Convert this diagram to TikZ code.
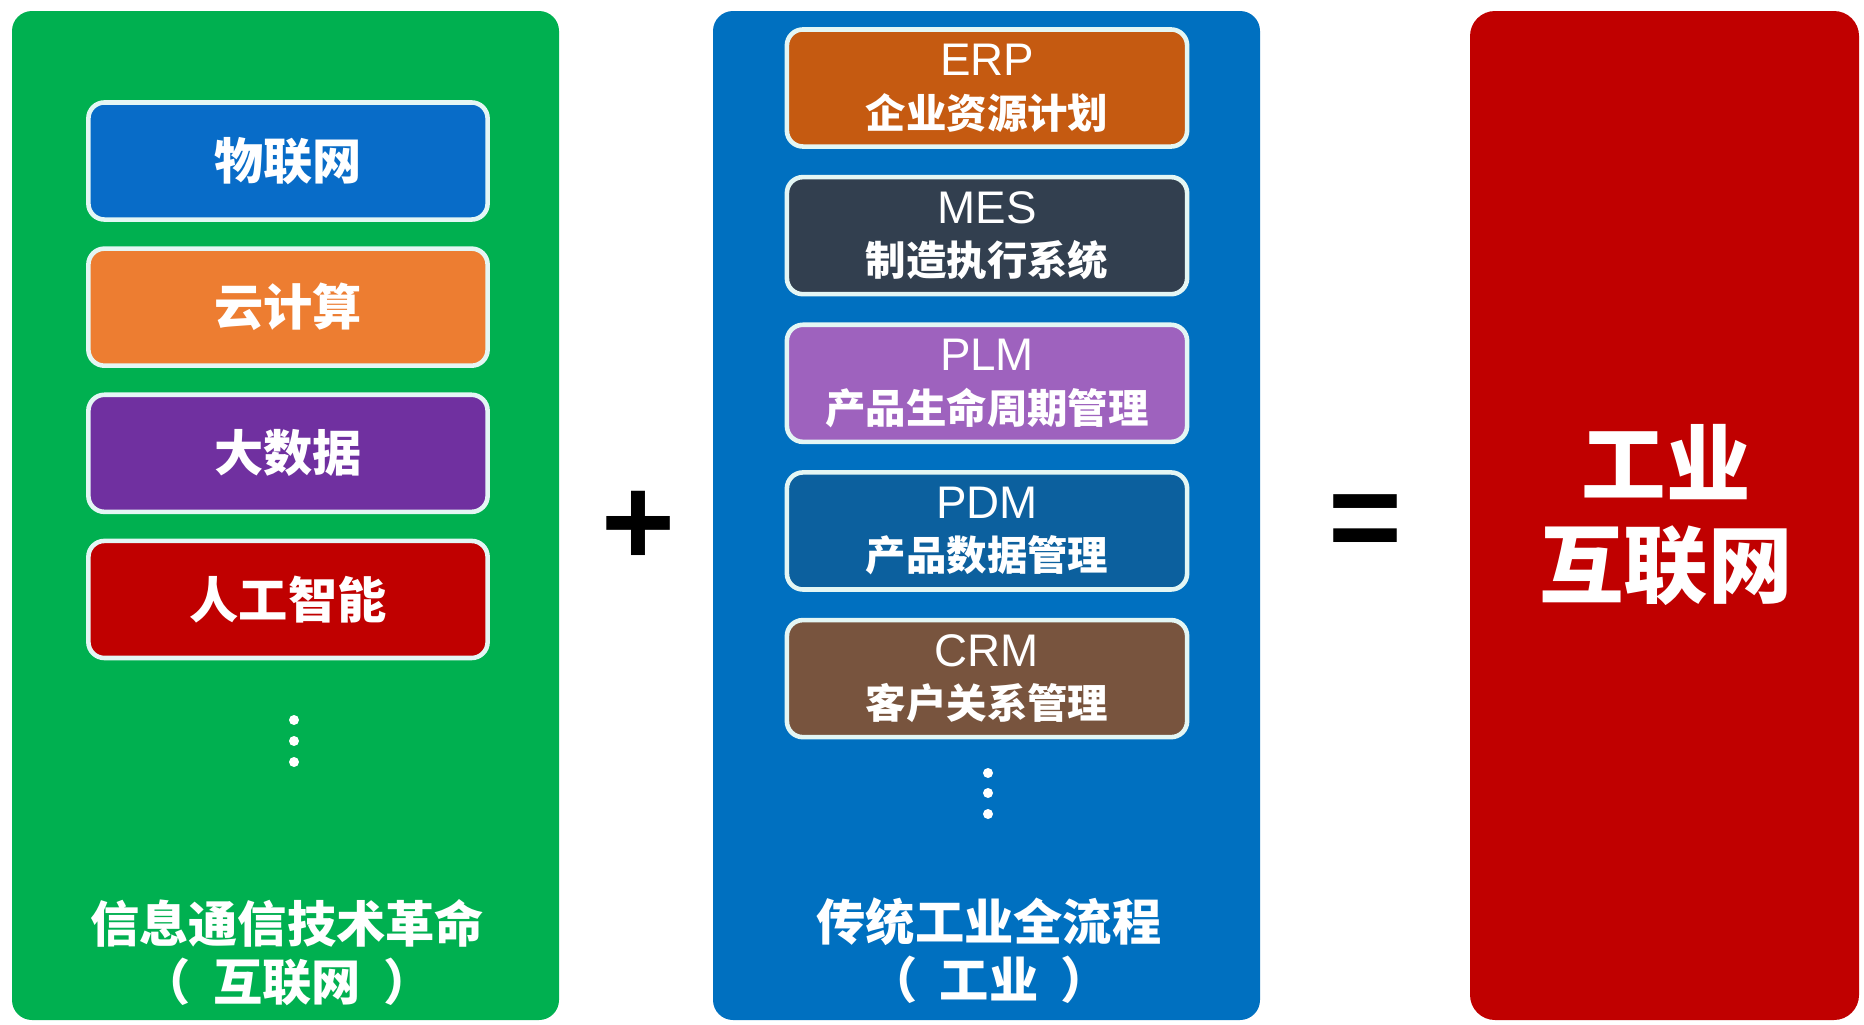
\documentclass[tikz,border=0pt]{standalone}
\usepackage{fontspec}
\setmainfont{Noto Sans CJK SC}
\newfontfamily\latinfont{Liberation Sans}
\usetikzlibrary{positioning}
\definecolor{ictgreen}{RGB}{0,176,80}
\definecolor{flowblue}{RGB}{0,112,192}
\definecolor{resultred}{RGB}{192,0,0}
\definecolor{iotblue}{RGB}{8,108,200}
\definecolor{cloudorange}{RGB}{237,125,49}
\definecolor{datapurple}{RGB}{112,48,160}
\definecolor{aired}{RGB}{192,0,0}
\definecolor{erporange}{RGB}{197,90,17}
\definecolor{messlate}{RGB}{50,63,79}
\definecolor{plmlilac}{RGB}{158,98,190}
\definecolor{pdmblue}{RGB}{12,96,158}
\definecolor{crmbrown}{RGB}{120,84,62}
\definecolor{boxedge}{RGB}{228,246,244}

\begin{document}
\begin{tikzpicture}[
    x=0.01cm, y=-0.01cm,
    techbox/.style={draw=boxedge, line width=1.3pt, rounded corners=0.16cm,
        minimum width=3.99cm, minimum height=1.17cm, text=white,
        font=\bfseries\fontsize{14}{16}\selectfont},
    flowbox/.style={techbox, minimum width=4.0cm, align=center,
        font=\bfseries\fontsize{11.5}{15}\selectfont},
    paneltitle/.style={text=white, align=center,
        font=\bfseries\fontsize{14}{16.5}\selectfont},
    opsign/.style={font=\latinfont\bfseries\fontsize{36}{40}\selectfont}
]

% ============================================================
% Canvas
% ============================================================
\fill[white] (0,0) rectangle (1864,1024);
\useasboundingbox (0,0) rectangle (1864,1024);

% ============================================================
% LEFT: ICT revolution
% ============================================================
\fill[ictgreen, rounded corners=0.2cm] (12,11) rectangle (559,1020);

\node[techbox, fill=iotblue] (iot) at (288,161) {物联网};
\node[techbox, fill=cloudorange, below=0.245cm of iot] (cloud) {云计算};
\node[techbox, fill=datapurple, below=0.245cm of cloud] (bigdata) {大数据};
\node[techbox, fill=aired, below=0.245cm of bigdata] (ai) {人工智能};

% more items
\foreach \y in {720,741,762} {
    \fill[white] (294,\y) circle (0.05cm);
}

\node[paneltitle] (icttitle) at (287,953)
    {信息通信技术革命\\（\hspace{0.45em}互联网\hspace{0.45em}）};

% ============================================================
% MIDDLE: traditional industry
% ============================================================
\fill[flowblue, rounded corners=0.2cm] (713,11) rectangle (1260,1020);

\node[flowbox, fill=erporange] (erp) at (987,88)
    {{\latinfont\mdseries\fontsize{13}{15}\selectfont ERP}\\企业资源计划};
\node[flowbox, fill=messlate, below=0.26cm of erp] (mes)
    {{\latinfont\mdseries\fontsize{13}{15}\selectfont MES}\\制造执行系统};
\node[flowbox, fill=plmlilac, below=0.26cm of mes] (plm)
    {{\latinfont\mdseries\fontsize{13}{15}\selectfont PLM}\\产品生命周期管理};
\node[flowbox, fill=pdmblue, below=0.26cm of plm] (pdm)
    {{\latinfont\mdseries\fontsize{13}{15}\selectfont PDM}\\产品数据管理};
\node[flowbox, fill=crmbrown, below=0.26cm of pdm] (crm)
    {{\latinfont\mdseries\fontsize{13}{15}\selectfont CRM}\\客户关系管理};

% more items
\foreach \y in {773,793,814} {
    \fill[white] (988,\y) circle (0.05cm);
}

\node[paneltitle] (flowtitle) at (989,951)
    {传统工业全流程\\（\hspace{0.45em}工业\hspace{0.45em}）};

% ============================================================
% RIGHT: industrial internet
% ============================================================
\fill[resultred, rounded corners=0.25cm] (1470,11) rectangle (1859,1020);
\node[text=white, align=center, font=\bfseries\fontsize{24}{28.7}\selectfont]
    (iiot) at (1666,515) {工业\\互联网};

% Operators
\node[opsign] (plus) at (638,528) {+};
\node[opsign] (equals) at (1365,528) {=};

\end{tikzpicture}
\end{document}
